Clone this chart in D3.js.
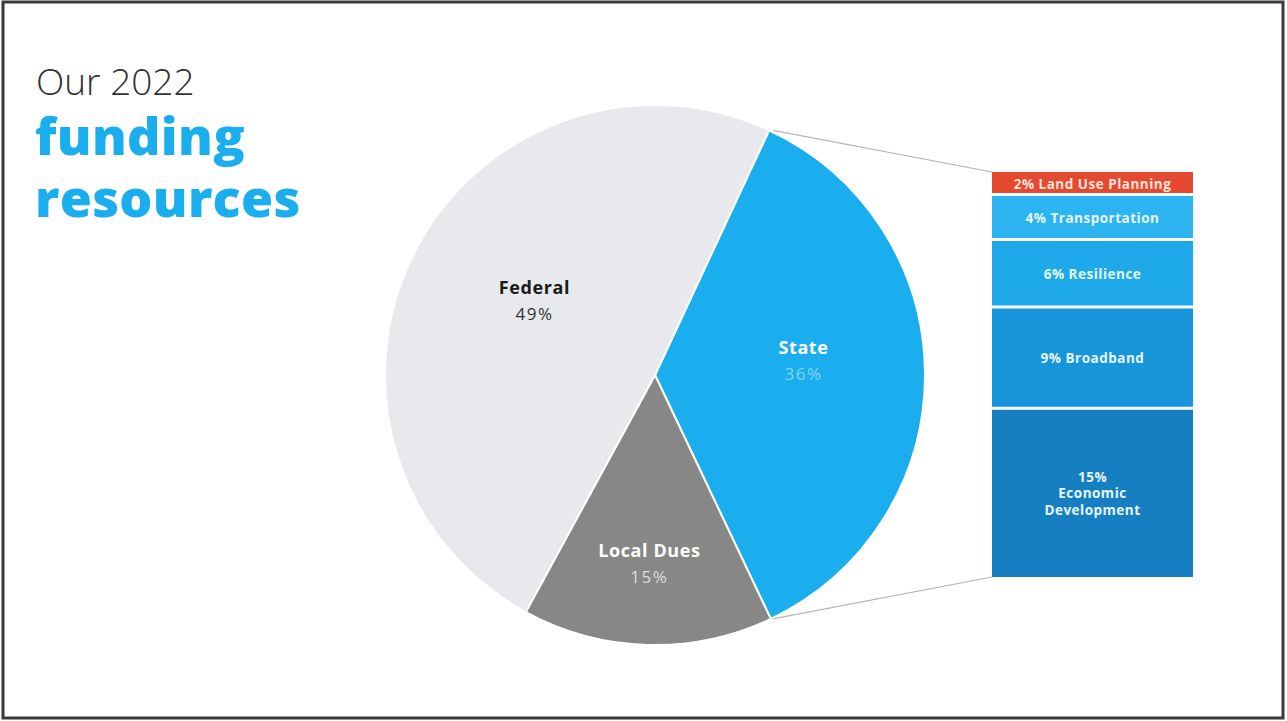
<!DOCTYPE html>
<html>
<head>
<meta charset="utf-8">
<script src="https://cdn.jsdelivr.net/npm/d3@7"></script>
<style>
  html, body { margin: 0; padding: 0; background: #fff; }
  svg { display: block; font-family: "Open Sans", sans-serif; }
</style>
</head>
<body>
<svg width="1287" height="721"></svg>
<script>
// funding sources (pie)
const sources = ['State', 'Local Dues', 'Federal'];
const sourceShares = [36, 15, 49];
const sourceColors = ['#1aaeef', '#878785', '#e8e9ed'];

// breakdown of the State share (stacked column, top to bottom)
const stateUses = ['Land Use Planning', 'Transportation', 'Resilience', 'Broadband', 'Economic Development'];
const stateShares = [2, 4, 6, 9, 15];
const stateColors = ['#e5492f', '#2bb4ef', '#1ea9eb', '#1795da', '#167fc2'];

const svg = d3.select('svg');

// frame round the slide
svg.append('rect')
    .attr('x', 3).attr('y', 2)
    .attr('width', 1280).attr('height', 716)
    .attr('fill', 'none')
    .attr('stroke', '#3a3a3a')
    .attr('stroke-width', 3);

// title, one text block with three lines
let title = svg.append('text').attr('x', 36).attr('y', 95);

title.append('tspan')
    .attr('x', 36)
    .style('font-size', '37px')
    .style('font-weight', 300)
    .attr('fill', '#333')
    .text('Our 2022');

['funding', 'resources'].forEach((t, i) => {
    title.append('tspan')
        .attr('x', 35)
        .attr('dy', i ? 62 : 60)
        .style('font-size', '52px')
        .style('font-weight', 800)
        .style('letter-spacing', '0.3px')
        .attr('fill', '#1aaeef')
        .text(t);
});

// pie
const cx = 655, cy = 375, radius = 270;
const start = 25 * Math.PI / 180;

const pie = d3.pie()
    .sort(null)
    .value(d => d.share)
    .startAngle(start)
    .endAngle(start + 2 * Math.PI);

const arc = d3.arc().innerRadius(0).outerRadius(radius);

const slices = pie(sources.map((s, i) => ({name: s, share: sourceShares[i], color: sourceColors[i]})));

let pieG = svg.append('g').attr('transform', `translate(${cx},${cy})`);

pieG.selectAll('path')
    .data(slices)
    .enter()
    .append('path')
    .attr('d', arc)
    .attr('fill', d => d.data.color)
    .attr('stroke', '#fff')
    .attr('stroke-width', 2);

// label radius per slice (fraction of radius)
const labelFrac = {'State': 0.55, 'Local Dues': 0.75, 'Federal': 0.5};
const labelStyle = {
    'State': {name: '#fff', pct: '#86d5f7'},
    'Local Dues': {name: '#fff', pct: '#dcdcdc'},
    'Federal': {name: '#1a1a1a', pct: '#333'}
};

slices.forEach(d => {
    let a = (d.startAngle + d.endAngle) / 2,
        r = radius * labelFrac[d.data.name],
        x = r * Math.sin(a),
        y = -r * Math.cos(a);
    let g = pieG.append('g').attr('transform', `translate(${x},${y})`);
    g.append('text')
        .attr('text-anchor', 'middle')
        .attr('y', -20)
        .style('font-size', '18px')
        .style('font-weight', 700)
        .style('letter-spacing', '0.6px')
        .attr('fill', labelStyle[d.data.name].name)
        .text(d.data.name);
    g.append('text')
        .attr('text-anchor', 'middle')
        .attr('y', 6)
        .style('font-size', '17px')
        .style('letter-spacing', '1.5px')
        .attr('fill', labelStyle[d.data.name].pct)
        .text(d.data.share + '%');
});

// stacked breakdown of State
const bx = 992, bw = 201, gap = 3;
const total = d3.sum(stateShares);
const yScale = d3.scaleLinear().domain([0, total]).range([172, 577]);

let acc = 0;
const segs = stateUses.map((u, i) => {
    let s = {name: u, share: stateShares[i], color: stateColors[i], y0: acc, y1: acc + stateShares[i]};
    acc += stateShares[i];
    return s;
});

// connector lines from State slice edges to the column
const st = slices[0];
const pStart = [cx + radius * Math.sin(st.startAngle), cy - radius * Math.cos(st.startAngle)];
const pEnd = [cx + radius * Math.sin(st.endAngle), cy - radius * Math.cos(st.endAngle)];

svg.append('line')
    .attr('x1', pStart[0] + 4).attr('y1', pStart[1])
    .attr('x2', bx).attr('y2', yScale(0))
    .attr('stroke', '#b5b5b5').attr('stroke-width', 1.2);
svg.append('line')
    .attr('x1', pEnd[0] + 2).attr('y1', pEnd[1])
    .attr('x2', bx).attr('y2', yScale(total))
    .attr('stroke', '#b5b5b5').attr('stroke-width', 1.2);

let col = svg.append('g');

col.selectAll('rect')
    .data(segs)
    .enter()
    .append('rect')
    .attr('x', bx)
    .attr('y', (d, i) => yScale(d.y0) + (i ? gap / 2 : 0))
    .attr('width', bw)
    .attr('height', (d, i) => yScale(d.y1) - yScale(d.y0) - (i ? gap / 2 : 0) - (i < segs.length - 1 ? gap / 2 : 0))
    .attr('fill', d => d.color);

segs.forEach(d => {
    let mid = (yScale(d.y0) + yScale(d.y1)) / 2;
    let lines = d.name === 'Economic Development'
        ? [d.share + '%', 'Economic', 'Development']
        : [d.share + '% ' + d.name];
    let fill = d.name === 'Land Use Planning' ? '#fbe3dc' : '#e6f6fe';
    lines.forEach((t, i) => {
        col.append('text')
            .attr('x', bx + bw / 2)
            .attr('y', mid + (i - (lines.length - 1) / 2) * 16.5 + 1)
            .attr('dy', '0.35em')
            .attr('text-anchor', 'middle')
            .style('font-size', '13.5px')
            .style('font-weight', 700)
            .style('letter-spacing', '0.5px')
            .attr('fill', fill)
            .text(t);
    });
});
</script>
</body>
</html>
